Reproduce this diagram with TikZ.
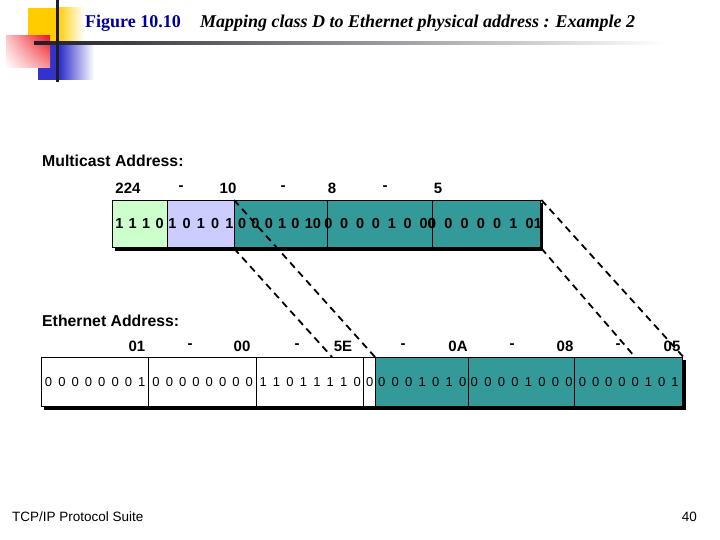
\documentclass[tikz,border=0pt]{standalone}
\usepackage{fontspec}
\usetikzlibrary{shadings}
\setmainfont{Liberation Serif}
\newfontfamily\arial{Liberation Sans}
\definecolor{segteal}{RGB}{51,153,153}
\definecolor{seggreen}{RGB}{204,255,204}
\definecolor{seglav}{RGB}{204,204,255}
\definecolor{titlenavy}{RGB}{0,0,153}
\definecolor{logoyellow}{RGB}{255,204,0}
\definecolor{logoblue}{RGB}{51,51,204}
\definecolor{logored}{RGB}{240,20,30}
\definecolor{logoline}{RGB}{30,30,40}
\newcommand\bitrow[2]{\spaceskip=#1 plus 0pt minus 0pt\relax #2}
\begin{document}
\begin{tikzpicture}[x=1pt,y=-1pt,
  seg/.style={draw=black, line width=1.4pt, inner sep=0pt, anchor=north west},
  mbits/.style={font=\arial\bfseries\fontsize{14.5}{17}\selectfont, inner sep=0pt},
  ebits/.style={font=\arial\fontsize{13}{15}\selectfont, inner sep=0pt},
  hdr/.style={font=\arial\bfseries\fontsize{15}{17}\selectfont, inner sep=0pt},
  lbl/.style={font=\arial\bfseries\fontsize{15.8}{18}\selectfont, anchor=west, inner sep=0pt},
  dashline/.style={draw=black, line width=1.8pt, dash pattern=on 7pt off 5pt}]
\useasboundingbox (0,0) rectangle (720,540);
\fill[white] (0,0) rectangle (720,540);

% logo
\fill[logoyellow] (28,8) rectangle (57,43);
\shade[left color=logoyellow, right color=white] (57,8) rectangle (84,43);
\fill[logoblue] (38,43) rectangle (60,80);
\shade[left color=logoblue, right color=white] (60,43) rectangle (94,80);
\shade[upper right=logored, upper left=logored!25!white, lower right=logored!45!white, lower left=white] (6,36) rectangle (50,68);
\shade[left color=logoline, middle color=logoline!45!white, right color=white] (34,41.5) rectangle (665,44.5);
\fill[logoline] (55.5,0) rectangle (58.5,82);

% title
\node[anchor=base west, inner sep=0pt, text=titlenavy, font=\bfseries\fontsize{18}{21}\selectfont] (fig) at (85,28) {Figure 10.10};
\node[anchor=base west, inner sep=0pt, font=\bfseries\itshape\fontsize{18}{21}\selectfont] (cap) at (200,28) {Mapping class D to Ethernet physical address : Example 2};

% labels
\node[lbl] (mlab) at (42,161) {Multicast Address:};
\node[lbl] (elab) at (42,321) {Ethernet Address:};

% multicast header
\node[hdr] (h224) at (128,188) {224};
\node[hdr] (hd1) at (181,188) {-};
\node[hdr] (h10) at (228,188) {10};
\node[hdr] (hd2) at (283,188) {-};
\node[hdr] (h8) at (332,188) {8};
\node[hdr] (hd3) at (385,188) {-};
\node[hdr] (h5) at (438,188) {5};

% multicast shadow and boxes
\fill[black] (115,203) rectangle (543,250.5);
\node[seg, fill=seggreen, minimum width=55pt, minimum height=47pt] (m1) at (112,200) {};
\node[seg, fill=seglav, minimum width=67pt, minimum height=47pt] (m2) at (167,200) {};
\node[seg, fill=segteal, minimum width=93pt, minimum height=47pt] (m3) at (234,200) {};
\node[seg, fill=segteal, minimum width=105pt, minimum height=47pt] (m4) at (327,200) {};
\node[seg, fill=segteal, minimum width=108pt, minimum height=47pt] (m5) at (432,200) {};
\node[mbits] (t1) at (139.5,224) {\bitrow{5.4pt}{1 1 1 0}};
\node[mbits] (t2) at (201,224) {\bitrow{6.2pt}{1 0 1 0 1}};
\node[mbits] (t3) at (279.5,224) {\bitrow{5.3pt}{0 0 0 1 0 10}};
\node[mbits] (t4) at (380,224) {\bitrow{7.8pt}{0 0 0 0 1 0 00}};
\node[mbits] (t5) at (485,224) {\bitrow{8.2pt}{0 0 0 0 0 1 01}};

% ethernet header
\node[hdr] (h01) at (137,346) {01};
\node[hdr] (he1) at (190,346) {-};
\node[hdr] (h00) at (242,346) {00};
\node[hdr] (he2) at (297,346) {-};
\node[hdr] (h5E) at (343,346) {5E};
\node[hdr] (he3) at (403,346) {-};
\node[hdr] (h0A) at (458,346) {0A};
\node[hdr] (he4) at (512,346) {-};
\node[hdr] (h08) at (565,346) {08};
\node[hdr] (he5) at (618,346) {-};
\node[hdr] (h05) at (672,346) {05};

% ethernet shadow and boxes
\fill[black] (44,360) rectangle (685.5,409.5);
\node[seg, fill=white, minimum width=107pt, minimum height=49pt] (e1) at (41,357) {};
\node[seg, fill=white, minimum width=108pt, minimum height=49pt] (e2) at (148,357) {};
\node[seg, fill=white, minimum width=107pt, minimum height=49pt] (e3) at (256,357) {};
\node[seg, fill=white, minimum width=12pt, minimum height=49pt] (e4) at (363,357) {};
\node[seg, fill=segteal, minimum width=93pt, minimum height=49pt] (e5) at (375,357) {};
\node[seg, fill=segteal, minimum width=106pt, minimum height=49pt] (e6) at (468,357) {};
\node[seg, fill=segteal, minimum width=108pt, minimum height=49pt] (e7) at (574,357) {};
\node[ebits] (u1) at (e1.center) {\bitrow{6.1pt}{0 0 0 0 0 0 0 1}};
\node[ebits] (u2) at (e2.center) {\bitrow{6.1pt}{0 0 0 0 0 0 0 0}};
\node[ebits] (u3) at (e3.center) {\bitrow{6.2pt}{1 1 0 1 1 1 1 0}};
\node[ebits] (u4) at (e4.center) {0};
\node[ebits] (u5) at (e5.center) {\bitrow{6.3pt}{0 0 0 1 0 1 0}};
\node[ebits] (u6) at (e6.center) {\bitrow{6.3pt}{0 0 0 0 1 0 0 0}};
\node[ebits] (u7) at (e7.center) {\bitrow{6pt}{0 0 0 0 0 1 0 1}};

% dashed mapping lines
\coordinate (bend) at (332,357);
\coordinate (dend) at (635,357);
\draw[dashline] (m3.north west) -- (e5.north west);
\draw[dashline] (m3.south west) -- (bend);
\draw[dashline] (m5.north east) -- (e7.north east);
\draw[dashline] (m5.south east) -- (dend);

% footer
\node[anchor=base west, inner sep=0pt, font=\arial\fontsize{13.5}{15}\selectfont] (foot) at (12,521) {TCP/IP Protocol Suite};
\node[anchor=base east, inner sep=0pt, font=\arial\fontsize{13.5}{15}\selectfont] (page) at (697,521) {40};
\end{tikzpicture}
\end{document}
